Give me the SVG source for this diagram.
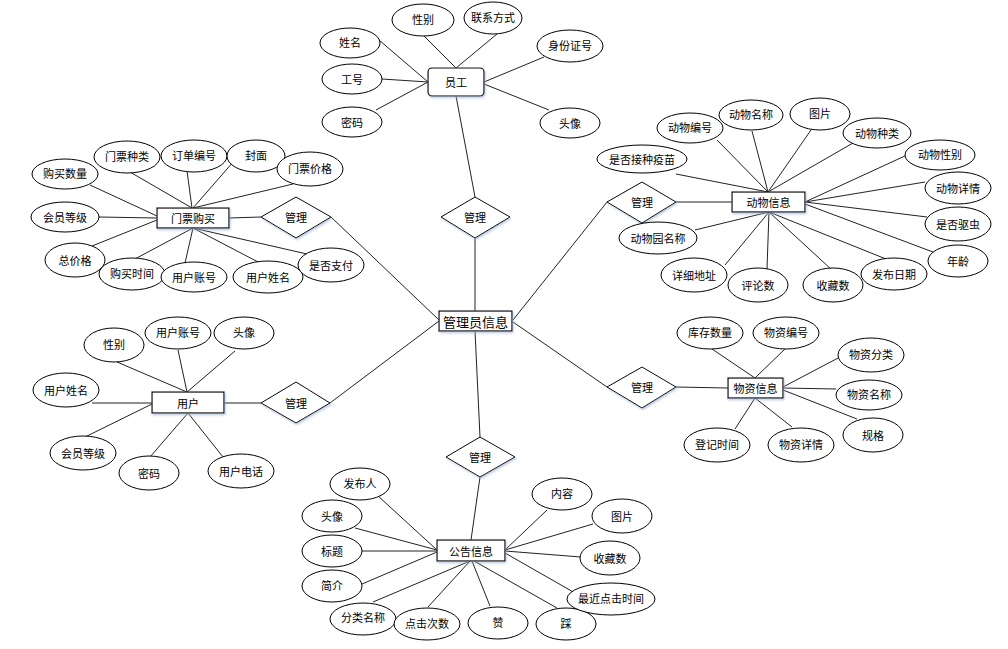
<svg xmlns="http://www.w3.org/2000/svg" width="1008" height="649" viewBox="0 0 1008 649">
<style>
.e{fill:#fff;stroke:#000;stroke-width:1}
.r{fill:#fff;stroke:#000;stroke-width:1.2;filter:url(#sh)}
.d{fill:#fff;stroke:#000;stroke-width:1;filter:url(#sh)}
.t{font-family:"Noto Sans CJK SC","Microsoft YaHei",sans-serif;font-size:11px;fill:#000;text-anchor:middle;dominant-baseline:central}
.big{font-size:13px}
#connectors line{stroke:#222;stroke-width:1}
</style>
<defs>
<filter id="sh" x="-20%" y="-20%" width="140%" height="150%">
<feDropShadow dx="1" dy="1.5" stdDeviation="1" flood-color="#9fb4d0" flood-opacity="0.7"/>
</filter>
</defs>
<rect width="1008" height="649" fill="#fff"/>
<g id="connectors">
<!-- central -->
<line x1="475" y1="311" x2="475" y2="238"/>
<line x1="456" y1="96" x2="475" y2="197"/>
<line x1="439" y1="320" x2="331" y2="217"/>
<line x1="439" y1="321" x2="330" y2="403"/>
<line x1="513" y1="320" x2="607" y2="202"/>
<line x1="513" y1="322" x2="607" y2="387"/>
<line x1="475" y1="331" x2="480" y2="437"/>
<line x1="480" y1="477" x2="471" y2="540"/>
<line x1="229" y1="218" x2="261" y2="217"/>
<line x1="224" y1="403" x2="261" y2="403"/>
<line x1="676" y1="202" x2="732" y2="202"/>
<line x1="676" y1="387" x2="728" y2="388"/>
<!-- staff -->
<line x1="379" y1="40" x2="428" y2="82"/>
<line x1="382" y1="79" x2="428" y2="82"/>
<line x1="376" y1="110" x2="428" y2="82"/>
<line x1="423" y1="35" x2="456" y2="68"/>
<line x1="497" y1="34" x2="456" y2="68"/>
<line x1="544" y1="57" x2="484" y2="82"/>
<line x1="549" y1="110" x2="484" y2="84"/>
<!-- ticket -->
<line x1="90" y1="185" x2="157" y2="216"/>
<line x1="130" y1="172" x2="192" y2="208"/>
<line x1="187" y1="171" x2="192" y2="208"/>
<line x1="234" y1="161" x2="193" y2="208"/>
<line x1="293" y1="184" x2="193" y2="208"/>
<line x1="99" y1="217" x2="157" y2="218"/>
<line x1="92" y1="246" x2="157" y2="220"/>
<line x1="133" y1="260" x2="193" y2="228"/>
<line x1="185" y1="263" x2="193" y2="228"/>
<line x1="260" y1="263" x2="193" y2="228"/>
<line x1="307" y1="254" x2="193" y2="228"/>
<!-- animal -->
<line x1="676" y1="174" x2="768" y2="192"/>
<line x1="717" y1="140" x2="768" y2="192"/>
<line x1="752" y1="131" x2="768" y2="192"/>
<line x1="811" y1="130" x2="768" y2="192"/>
<line x1="853" y1="143" x2="768" y2="192"/>
<line x1="907" y1="155" x2="805" y2="202"/>
<line x1="925" y1="182" x2="805" y2="202"/>
<line x1="927" y1="217" x2="805" y2="202"/>
<line x1="933" y1="252" x2="805" y2="204"/>
<line x1="695" y1="230" x2="769" y2="212"/>
<line x1="725" y1="265" x2="769" y2="212"/>
<line x1="767" y1="269" x2="769" y2="212"/>
<line x1="832" y1="270" x2="769" y2="212"/>
<line x1="886" y1="259" x2="769" y2="212"/>
<!-- user -->
<line x1="117" y1="362" x2="187" y2="392"/>
<line x1="178" y1="350" x2="187" y2="392"/>
<line x1="235" y1="351" x2="187" y2="392"/>
<line x1="92" y1="403" x2="152" y2="403"/>
<line x1="85" y1="437" x2="152" y2="404"/>
<line x1="150" y1="457" x2="188" y2="413"/>
<line x1="223" y1="457" x2="188" y2="413"/>
<!-- goods -->
<line x1="712" y1="349" x2="755" y2="378"/>
<line x1="785" y1="349" x2="755" y2="378"/>
<line x1="840" y1="357" x2="783" y2="387"/>
<line x1="836" y1="389" x2="783" y2="388"/>
<line x1="857" y1="419" x2="783" y2="390"/>
<line x1="735" y1="429" x2="755" y2="398"/>
<line x1="792" y1="427" x2="755" y2="398"/>
<!-- notice -->
<line x1="377" y1="495" x2="437" y2="550"/>
<line x1="355" y1="528" x2="437" y2="550"/>
<line x1="362" y1="551" x2="437" y2="551"/>
<line x1="362" y1="584" x2="437" y2="552"/>
<line x1="373" y1="602" x2="470" y2="561"/>
<line x1="428" y1="607" x2="470" y2="561"/>
<line x1="490" y1="606" x2="472" y2="561"/>
<line x1="557" y1="608" x2="474" y2="561"/>
<line x1="547" y1="510" x2="505" y2="550"/>
<line x1="593" y1="524" x2="505" y2="550"/>
<line x1="581" y1="557" x2="505" y2="551"/>
<line x1="575" y1="593" x2="505" y2="553"/>
</g>

<g id="admin"><rect class="r" x="439" y="311" width="73" height="20"/><text class="t big" x="475.5" y="321">管理员信息</text></g>

<g id="rel-staff"><polygon class="d" points="441,217 475,197 510,217 475,238"/><text class="t" x="475" y="217">管理</text></g>
<g id="rel-ticket"><polygon class="d" points="261,217 296,197 331,217 296,238"/><text class="t" x="296" y="217">管理</text></g>
<g id="rel-user"><polygon class="d" points="261,403 296,382 330,403 296,423"/><text class="t" x="296" y="403">管理</text></g>
<g id="rel-animal"><polygon class="d" points="607,202 642,182 676,202 642,223"/><text class="t" x="642" y="202">管理</text></g>
<g id="rel-goods"><polygon class="d" points="607,387 642,367 676,387 642,408"/><text class="t" x="642" y="387">管理</text></g>
<g id="rel-notice"><polygon class="d" points="446,457 480,437 515,457 480,477"/><text class="t" x="480" y="457">管理</text></g>

<g id="staff"><rect class="r" x="428" y="68" width="56" height="28" rx="4"/><text class="t" x="456" y="82">员工</text></g>
<g id="staff-gender"><ellipse class="e" cx="423" cy="20" rx="31" ry="16"/><text class="t" x="423" y="19">性别</text></g>
<g id="staff-contact"><ellipse class="e" cx="493" cy="18" rx="29" ry="16"/><text class="t" x="493" y="17">联系方式</text></g>
<g id="staff-name"><ellipse class="e" cx="350" cy="43" rx="30" ry="15"/><text class="t" x="350" y="42">姓名</text></g>
<g id="staff-no"><ellipse class="e" cx="352" cy="79" rx="30" ry="15"/><text class="t" x="352" y="79">工号</text></g>
<g id="staff-pwd"><ellipse class="e" cx="352" cy="122" rx="30" ry="15"/><text class="t" x="352" y="122">密码</text></g>
<g id="staff-id"><ellipse class="e" cx="570" cy="46" rx="33" ry="16"/><text class="t" x="570" y="45">身份证号</text></g>
<g id="staff-avatar"><ellipse class="e" cx="570" cy="123" rx="30" ry="15"/><text class="t" x="570" y="123">头像</text></g>

<g id="ticket"><rect class="r" x="157" y="208" width="72" height="20"/><text class="t" x="193" y="218">门票购买</text></g>
<g id="t-qty"><ellipse class="e" cx="65" cy="174" rx="33" ry="15"/><text class="t" x="65" y="173">购买数量</text></g>
<g id="t-type"><ellipse class="e" cx="127" cy="157" rx="33" ry="16"/><text class="t" x="127" y="156">门票种类</text></g>
<g id="t-order"><ellipse class="e" cx="194" cy="156" rx="33" ry="16"/><text class="t" x="194" y="155">订单编号</text></g>
<g id="t-cover"><ellipse class="e" cx="256" cy="156" rx="29" ry="16"/><text class="t" x="256" y="155">封面</text></g>
<g id="t-price"><ellipse class="e" cx="310" cy="169" rx="33" ry="17"/><text class="t" x="310" y="168">门票价格</text></g>
<g id="t-level"><ellipse class="e" cx="65" cy="217" rx="34" ry="15"/><text class="t" x="65" y="217">会员等级</text></g>
<g id="t-total"><ellipse class="e" cx="75" cy="260" rx="30" ry="17"/><text class="t" x="75" y="260">总价格</text></g>
<g id="t-time"><ellipse class="e" cx="132" cy="274" rx="33" ry="16"/><text class="t" x="132" y="273">购买时间</text></g>
<g id="t-account"><ellipse class="e" cx="194" cy="277" rx="33" ry="15"/><text class="t" x="194" y="277">用户账号</text></g>
<g id="t-uname"><ellipse class="e" cx="268" cy="277" rx="35" ry="16"/><text class="t" x="268" y="277">用户姓名</text></g>
<g id="t-paid"><ellipse class="e" cx="331" cy="265" rx="33" ry="17"/><text class="t" x="331" y="265">是否支付</text></g>

<g id="animal"><rect class="r" x="732" y="192" width="73" height="20"/><text class="t" x="768.5" y="202">动物信息</text></g>
<g id="a-no"><ellipse class="e" cx="690" cy="128" rx="33" ry="15"/><text class="t" x="690" y="127">动物编号</text></g>
<g id="a-name"><ellipse class="e" cx="751" cy="115" rx="32" ry="15"/><text class="t" x="751" y="114">动物名称</text></g>
<g id="a-pic"><ellipse class="e" cx="820" cy="114" rx="30" ry="16"/><text class="t" x="820" y="113">图片</text></g>
<g id="a-type"><ellipse class="e" cx="877" cy="133" rx="34" ry="15"/><text class="t" x="877" y="133">动物种类</text></g>
<g id="a-sex"><ellipse class="e" cx="940" cy="155" rx="35" ry="15"/><text class="t" x="940" y="154">动物性别</text></g>
<g id="a-detail"><ellipse class="e" cx="958" cy="188" rx="33" ry="16"/><text class="t" x="958" y="188">动物详情</text></g>
<g id="a-deworm"><ellipse class="e" cx="958" cy="224" rx="33" ry="17"/><text class="t" x="958" y="224">是否驱虫</text></g>
<g id="a-age"><ellipse class="e" cx="958" cy="261" rx="30" ry="16"/><text class="t" x="958" y="261">年龄</text></g>
<g id="a-vacc"><ellipse class="e" cx="642" cy="159" rx="45" ry="14"/><text class="t" x="642" y="159">是否接种疫苗</text></g>
<g id="a-zoo"><ellipse class="e" cx="658" cy="238" rx="39" ry="16"/><text class="t" x="658" y="238">动物园名称</text></g>
<g id="a-addr"><ellipse class="e" cx="694" cy="275" rx="33" ry="17"/><text class="t" x="694" y="275">详细地址</text></g>
<g id="a-comments"><ellipse class="e" cx="758" cy="285" rx="30" ry="17"/><text class="t" x="758" y="285">评论数</text></g>
<g id="a-favs"><ellipse class="e" cx="833" cy="285" rx="30" ry="17"/><text class="t" x="833" y="285">收藏数</text></g>
<g id="a-date"><ellipse class="e" cx="894" cy="274" rx="33" ry="16"/><text class="t" x="894" y="274">发布日期</text></g>

<g id="user"><rect class="r" x="152" y="392" width="72" height="21"/><text class="t" x="188" y="402.5">用户</text></g>
<g id="u-sex"><ellipse class="e" cx="114" cy="345" rx="30" ry="17"/><text class="t" x="114" y="344">性别</text></g>
<g id="u-account"><ellipse class="e" cx="178" cy="333" rx="33" ry="16"/><text class="t" x="178" y="332">用户账号</text></g>
<g id="u-avatar"><ellipse class="e" cx="244" cy="333" rx="30" ry="16"/><text class="t" x="244" y="332">头像</text></g>
<g id="u-name"><ellipse class="e" cx="66" cy="390" rx="33" ry="17"/><text class="t" x="66" y="390">用户姓名</text></g>
<g id="u-level"><ellipse class="e" cx="83" cy="453" rx="33" ry="17"/><text class="t" x="83" y="453">会员等级</text></g>
<g id="u-pwd"><ellipse class="e" cx="149" cy="473" rx="30" ry="17"/><text class="t" x="149" y="473">密码</text></g>
<g id="u-phone"><ellipse class="e" cx="241" cy="471" rx="33" ry="17"/><text class="t" x="241" y="471">用户电话</text></g>

<g id="goods"><rect class="r" x="728" y="378" width="55" height="20"/><text class="t" x="755.5" y="388">物资信息</text></g>
<g id="g-stock"><ellipse class="e" cx="710" cy="333" rx="33" ry="16"/><text class="t" x="710" y="332">库存数量</text></g>
<g id="g-no"><ellipse class="e" cx="786" cy="333" rx="33" ry="16"/><text class="t" x="786" y="332">物资编号</text></g>
<g id="g-cat"><ellipse class="e" cx="871" cy="355" rx="33" ry="17"/><text class="t" x="871" y="354">物资分类</text></g>
<g id="g-name"><ellipse class="e" cx="869" cy="395" rx="33" ry="15"/><text class="t" x="869" y="394">物资名称</text></g>
<g id="g-spec"><ellipse class="e" cx="873" cy="435" rx="30" ry="17"/><text class="t" x="873" y="435">规格</text></g>
<g id="g-time"><ellipse class="e" cx="717" cy="445" rx="33" ry="17"/><text class="t" x="717" y="444">登记时间</text></g>
<g id="g-detail"><ellipse class="e" cx="801" cy="445" rx="33" ry="17"/><text class="t" x="801" y="444">物资详情</text></g>

<g id="notice"><rect class="r" x="437" y="540" width="68" height="21"/><text class="t" x="471" y="550.5">公告信息</text></g>
<g id="n-publisher"><ellipse class="e" cx="360" cy="484" rx="30" ry="16"/><text class="t" x="360" y="483">发布人</text></g>
<g id="n-avatar"><ellipse class="e" cx="332" cy="516" rx="30" ry="16"/><text class="t" x="332" y="516">头像</text></g>
<g id="n-title"><ellipse class="e" cx="332" cy="551" rx="30" ry="16"/><text class="t" x="332" y="551">标题</text></g>
<g id="n-intro"><ellipse class="e" cx="332" cy="586" rx="30" ry="16"/><text class="t" x="332" y="585">简介</text></g>
<g id="n-cat"><ellipse class="e" cx="363" cy="619" rx="33" ry="16"/><text class="t" x="363" y="617">分类名称</text></g>
<g id="n-clicks"><ellipse class="e" cx="427" cy="624" rx="33" ry="16"/><text class="t" x="427" y="623">点击次数</text></g>
<g id="n-like"><ellipse class="e" cx="498" cy="623" rx="30" ry="16"/><text class="t" x="498" y="622">赞</text></g>
<g id="n-dislike"><ellipse class="e" cx="566" cy="624" rx="30" ry="16"/><text class="t" x="566" y="623">踩</text></g>
<g id="n-content"><ellipse class="e" cx="562" cy="494" rx="30" ry="16"/><text class="t" x="562" y="493">内容</text></g>
<g id="n-pic"><ellipse class="e" cx="622" cy="516" rx="30" ry="17"/><text class="t" x="622" y="516">图片</text></g>
<g id="n-favs"><ellipse class="e" cx="610" cy="558" rx="30" ry="17"/><text class="t" x="610" y="558">收藏数</text></g>
<g id="n-lastclick"><ellipse class="e" cx="611" cy="599" rx="44" ry="16"/><text class="t" x="611" y="598">最近点击时间</text></g>
</svg>
